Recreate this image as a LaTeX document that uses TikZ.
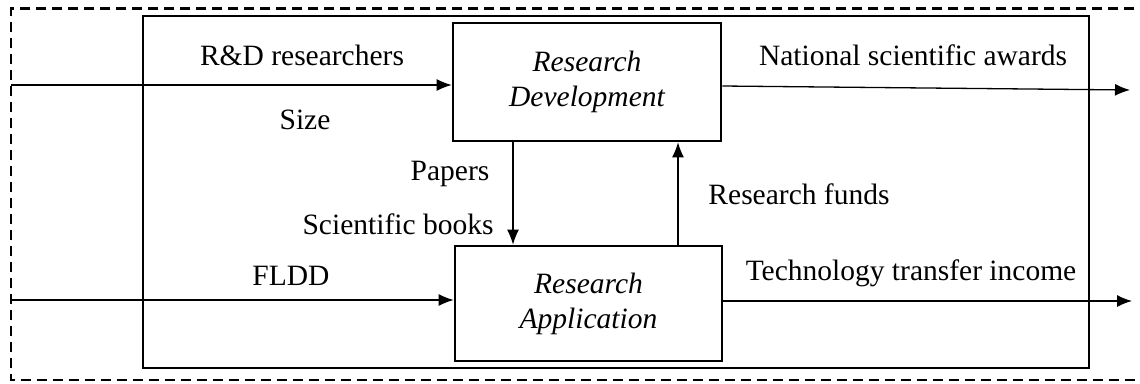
\documentclass[tikz,border=0pt]{standalone}
\usepackage{fontspec}
\setmainfont{Liberation Serif}
\usetikzlibrary{arrows.meta}
\begin{document}
\begin{tikzpicture}[x=1pt,y=-1pt,
  lbl/.style={font=\fontsize{29.5}{35}\selectfont, inner sep=0pt},
  procbox/.style={draw, line width=2.6pt, font=\fontsize{29.5}{35}\selectfont\itshape, align=center, inner sep=0pt},
  flow/.style={line width=1.3pt, -{Latex[length=15pt,width=12pt]}},
  frame/.style={draw, line width=2.6pt},
  outer/.style={draw, line width=2.2pt, dash pattern=on 10pt off 6pt}
]
\useasboundingbox (0,0) rectangle (1140,383);
% outer dashed boundary
\draw[outer] (1150,8.5) -- (11,8.5) -- (11,380) -- (1150,380);
% inner system box
\draw[frame] (143,16) rectangle (1089,368);
% process boxes
\node[procbox, minimum width=268pt, minimum height=118pt] (rd) at (587,82) {Research\\Development};
\node[procbox, minimum width=267pt, minimum height=115pt] (ra) at (588.5,303.5) {Research\\Application};
% free ends
\coordinate (in1) at (11,85);
\coordinate (in2) at (11,300);
\coordinate (out1) at (1130,90);
\coordinate (out2) at (1132,301);
% connectors
\draw[flow] (in1) -- (in1 -| rd.west);
\draw[flow] (in2) -- (in2 -| ra.west);
\draw[flow] (rd.east |- 0,86) -- (out1);
\draw[flow] (ra.east |- out2) -- (out2);
\draw[flow] (513,0 |- rd.south) -- (513,0 |- ra.north);
\draw[flow] (678,0 |- ra.north) -- (678,0 |- rd.south);
% labels
\node[lbl] (l1) at (302,55) {R\&D researchers};
\node[lbl] (l2) at (305,120) {Size};
\node[lbl] (l3) at (450,174) {Papers};
\node[lbl] (l4) at (398,224) {Scientific books};
\node[lbl] (l5) at (291,276) {FLDD};
\node[lbl] (l6) at (799,194) {Research funds};
\node[lbl] (l7) at (913,55) {National scientific awards};
\node[lbl] (l8) at (911,273) {Technology transfer income};
\end{tikzpicture}
\end{document}
